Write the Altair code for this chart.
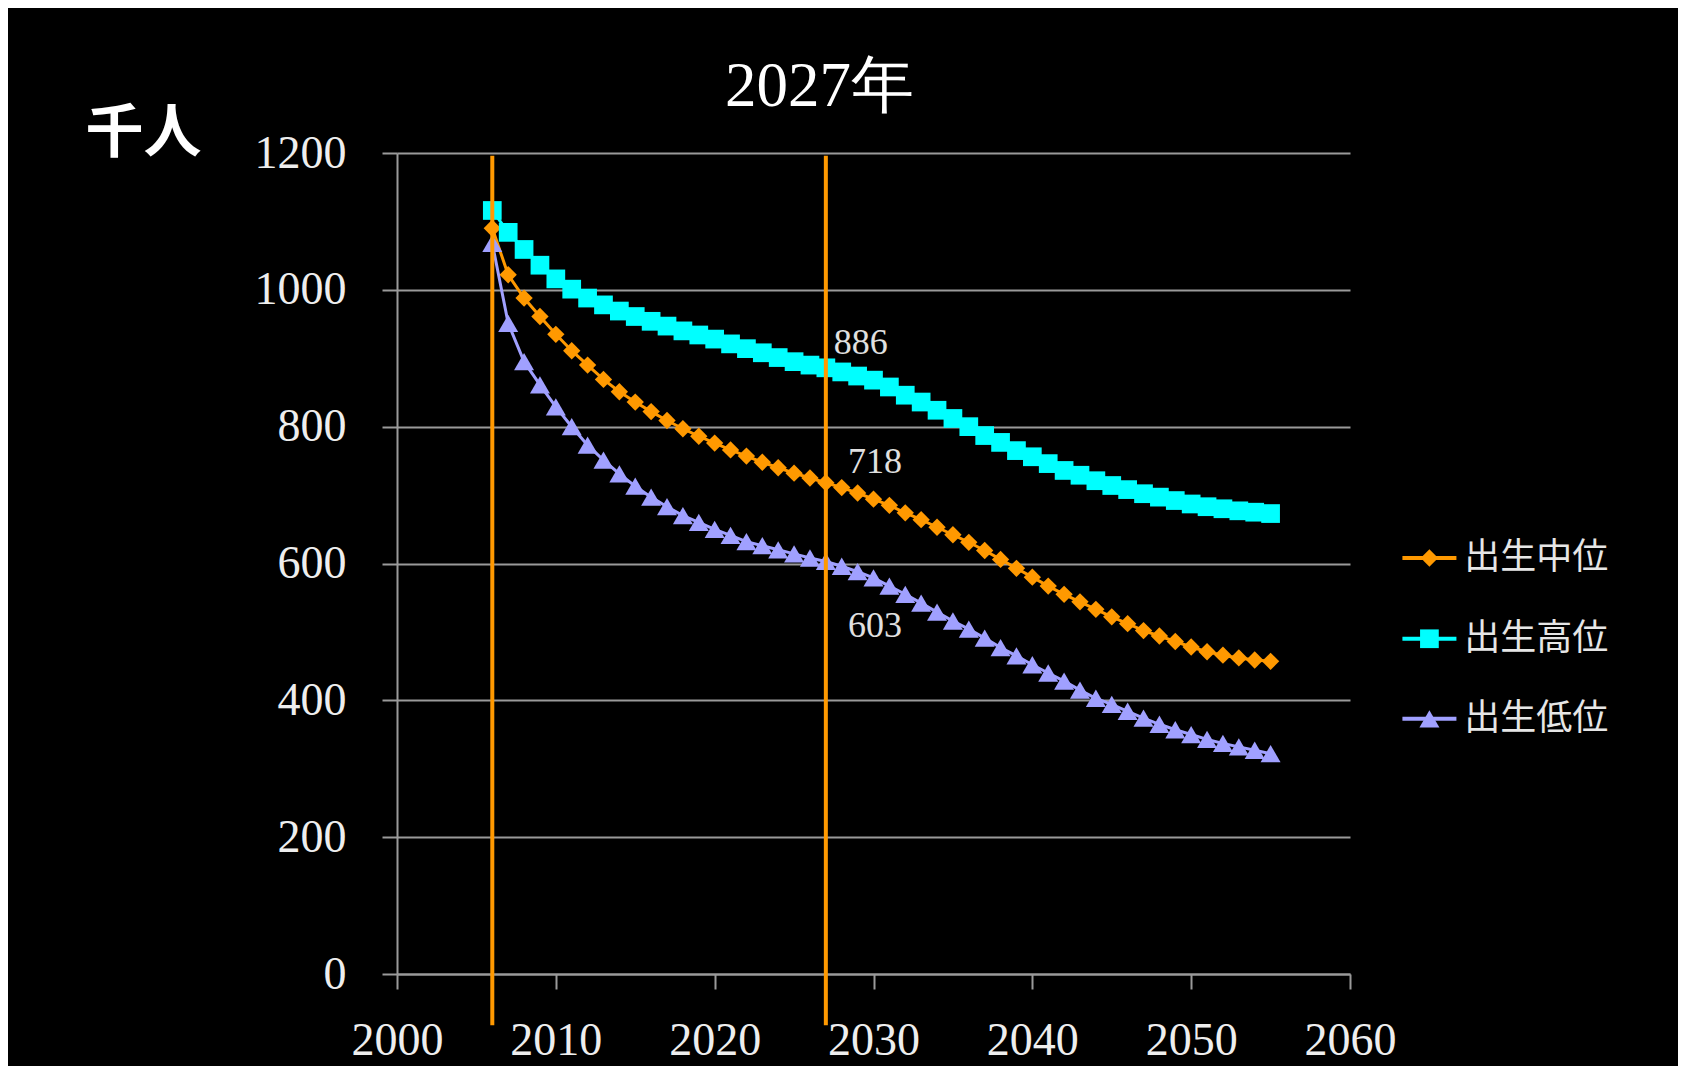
import altair as alt
import pandas as pd

# ---------------- data ----------------
years = list(range(2006, 2056))
medium = [1090, 1022, 988, 961, 935, 911, 890, 869, 851, 836,
          822, 809, 797, 786, 776, 766, 757, 748, 740, 732,
          725, 718, 711, 703, 694, 685, 674, 664, 653, 642,
          631, 619, 606, 593, 580, 567, 555, 544, 533, 522,
          512, 502, 494, 486, 478, 471, 466, 462, 459, 457]
high = [1116, 1084, 1059, 1036, 1016, 1001, 988, 978, 969, 961,
        954, 947, 940, 934, 928, 921, 914, 908, 901, 895,
        890, 886, 880, 874, 868, 858, 846, 836, 824, 812,
        800, 787, 777, 765, 756, 746, 736, 729, 721, 714,
        708, 702, 697, 692, 687, 683, 680, 677, 675, 673]
low = [1068, 951, 895, 861, 829, 800, 773, 751, 731, 713,
       697, 683, 670, 660, 650, 641, 632, 626, 620, 614,
       608, 603, 596, 588, 579, 567, 555, 542, 529, 516,
       504, 491, 477, 465, 452, 440, 428, 415, 403, 394,
       384, 374, 365, 357, 350, 343, 337, 332, 327, 322]

series_names = ["出生中位", "出生高位", "出生低位"]
series_colors = ["#FF9900", "#00FFFF", "#A0A0FF"]
series_shapes = ["diamond", "square", "triangle-up"]
series_sizes = [300, 400, 300]

marker_years = [2006, 2027]
marker_top = [1196, 1196]
marker_bottom = [-75, -75]
title_text = "2027年"
label_texts = ["886", "718", "603"]
label_x = [2029.2, 2030.1, 2030.1]
label_y = [922, 748, 509]

x_ticks = [2000, 2010, 2020, 2030, 2040, 2050, 2060]
y_ticks = [0, 200, 400, 600, 800, 1000, 1200]

# legend placement (in data units, right of the plot)
legend_rows = [608, 490, 373]
legend_line_from, legend_line_to = 2063.3, 2066.7
legend_marker_at = 2065.0
legend_text_at = 2067.2

# ---------------- tables ----------------
rows = []
for name, vals in zip(series_names, [medium, high, low]):
    for yr, v in zip(years, vals):
        rows.append({"year": yr, "value": v, "series": name})
df = pd.DataFrame(rows)
labels_df = pd.DataFrame({"year": label_x, "value": label_y, "label": label_texts})
rules_df = pd.DataFrame({"year": marker_years, "value": marker_top, "bottom": marker_bottom})
legend_df = pd.DataFrame({
    "series": series_names,
    "value": legend_rows,
    "year": [legend_line_from] * 3,
    "year_end": [legend_line_to] * 3,
    "mid": [legend_marker_at] * 3,
    "text_x": [legend_text_at] * 3,
})

W, H = 953, 821
SERIF = "Liberation Serif"
CJK = "Noto Sans CJK JP"
GRID = "#9a9a9a"

xscale = alt.Scale(domain=[2000, 2060], nice=False, zero=False)
yscale = alt.Scale(domain=[0, 1200], nice=False)
color_scale = alt.Scale(domain=series_names, range=series_colors)
shape_scale = alt.Scale(domain=series_names, range=series_shapes)
size_scale = alt.Scale(domain=series_names, range=series_sizes)

x_axis = alt.Axis(values=x_ticks, format="d", grid=False,
                  domainColor=GRID, domainWidth=2, tickColor=GRID, tickWidth=2,
                  tickSize=15, labelFont=SERIF, labelFontSize=46,
                  labelColor="#eeeeee", labelPadding=29, labelFlush=False)
y_axis = alt.Axis(values=y_ticks, format="d", grid=True, gridColor=GRID,
                  gridWidth=2, domainColor=GRID, domainWidth=2,
                  tickColor=GRID, tickWidth=2, tickSize=15,
                  labelFont=SERIF, labelFontSize=46, labelColor="#eeeeee",
                  labelPadding=36,
                  titleAngle=0, titleX=-254, titleY=-19,
                  titleAlign="center", titleBaseline="middle",
                  titleFont=CJK, titleFontSize=58, titleFontWeight="bold",
                  titleColor="#ffffff")

X = alt.X("year:Q", scale=xscale, axis=x_axis, title=None)
Y = alt.Y("value:Q", scale=yscale, axis=y_axis, title="千人")
C = alt.Color("series:N", scale=color_scale, legend=None)

lines = alt.Chart(df).mark_line(strokeWidth=3).encode(x=X, y=Y, color=C)

points = alt.Chart(df).mark_point(filled=True, opacity=1, strokeWidth=0).encode(
    x=X, y=Y, color=C,
    shape=alt.Shape("series:N", scale=shape_scale, legend=None),
    size=alt.Size("series:O", scale=size_scale, legend=None),
)

value_labels = alt.Chart(labels_df).mark_text(font=SERIF, fontSize=36, color="#e0e0e0",
                                              align="center", baseline="middle").encode(
    x=X, y=Y, text="label:N",
)

rules = alt.Chart(rules_df).mark_rule(color="#FF9900", strokeWidth=4).encode(
    x=X, y=Y, y2="bottom:Q",
)

# legend drawn from its own small table
leg_lines = alt.Chart(legend_df).mark_rule(strokeWidth=4).encode(
    x=X, x2="year_end:Q", y=Y, color=C,
)
leg_marks = alt.Chart(legend_df).mark_point(filled=True, opacity=1, strokeWidth=0).encode(
    x=alt.X("mid:Q", scale=xscale, axis=x_axis, title=None), y=Y, color=C,
    shape=alt.Shape("series:N", scale=shape_scale, legend=None),
    size=alt.Size("series:O", scale=size_scale, legend=None),
)
leg_text = alt.Chart(legend_df).mark_text(font=CJK, fontSize=36, color="#e6e6e6",
                                          align="left", baseline="middle").encode(
    x=alt.X("text_x:Q", scale=xscale, axis=x_axis, title=None), y=Y, text="series:N",
)

chart = alt.layer(lines, points, value_labels, rules, leg_lines, leg_marks, leg_text).properties(
    width=W, height=H,
    autosize=alt.AutoSizeParams(type="none"),
    padding={"left": 389, "top": 145, "right": 328, "bottom": 92},
    background="#000000",
    title=alt.TitleParams(title_text, font=SERIF, fontSize=63, color="#ffffff",
                          anchor="middle", frame="group", dx=-54, dy=64, offset=0,
                          baseline="alphabetic", fontWeight="normal"),
).configure_view(stroke=None).configure_axis(labelFont=SERIF)

chart.save("out.html", embed_options={"renderer": "svg", "actions": False})
